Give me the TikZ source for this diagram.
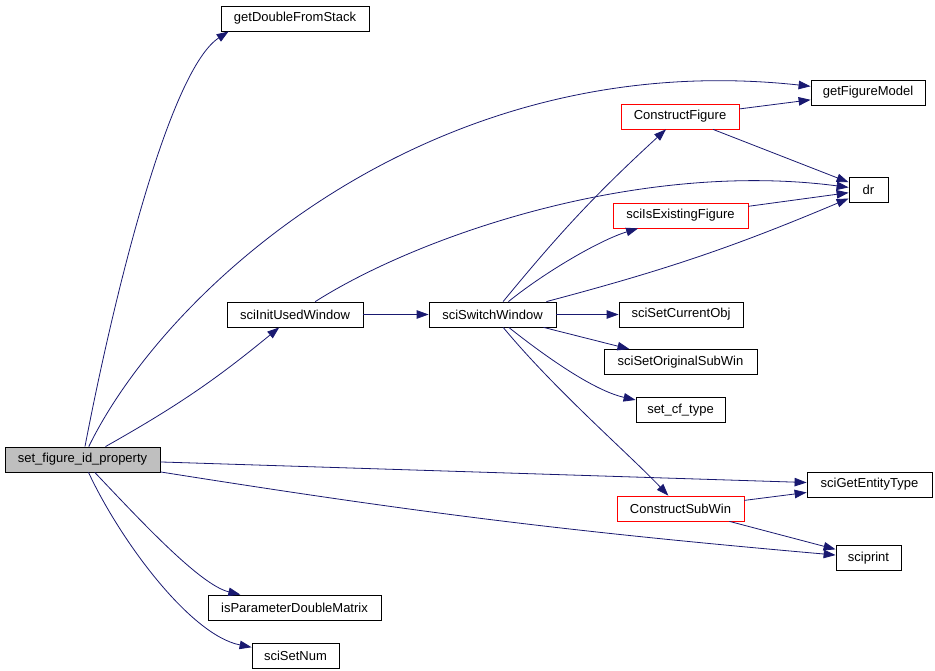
\documentclass[tikz,border=0pt]{standalone}
\usepackage{fontspec}
\setmainfont{Liberation Sans}
\usetikzlibrary{arrows.meta}
\definecolor{edgeblue}{HTML}{191970}
\tikzset{
	fn/.style={draw=black, line width=0.8pt, minimum height=25pt, inner sep=0pt, font=\fontsize{13}{15}\selectfont},
	fnred/.style={fn, draw=red},
	fnmain/.style={fn, fill=black!25},
	call/.style={draw=edgeblue, line width=0.8pt, -{Triangle[length=12pt,width=8.5pt]}}
}

\begin{document}
\begin{tikzpicture}[x=1pt, y=-1pt]
		%%%%% START %%%%%
		\useasboundingbox (0, 0) rectangle (935, 671);
		
		\node[fnmain, minimum width=155pt] (setfig) at (82.5, 459.5) {set\_figure\_id\_property};
		
		\node[fn, minimum width=148pt] (getdbl) at (295, 18.5) {getDoubleFromStack};
		\node[fn, minimum width=136pt] (initwin) at (295, 314.5) {sciInitUsedWindow};
		\node[fn, minimum width=173pt] (isparam) at (294.5, 607.5) {isParameterDoubleMatrix};
		\node[fn, minimum width=87pt] (setnum) at (295.5, 656) {sciSetNum};
		
		\node[fn, minimum width=127pt] (switchwin) at (492.5, 314.5) {sciSwitchWindow};
		
		\node[fnred, minimum width=118pt] (constfig) at (680, 116.5) {ConstructFigure};
		\node[fnred, minimum width=135pt] (isexist) at (680.5, 215.5) {sciIsExistingFigure};
		\node[fn, minimum width=124pt] (setcur) at (681, 314.5) {sciSetCurrentObj};
		\node[fn, minimum width=153pt] (setorig) at (680.5, 362) {sciSetOriginalSubWin};
		\node[fn, minimum width=89pt] (setcf) at (680.5, 410) {set\_cf\_type};
		\node[fnred, minimum width=127pt] (constsub) at (680.5, 508.5) {ConstructSubWin};
		
		\node[fn, minimum width=114pt] (getmodel) at (868, 92.5) {getFigureModel};
		\node[fn, minimum width=39pt] (dr) at (868.5, 190) {dr};
		\node[fn, minimum width=125pt] (enttype) at (869.5, 484.5) {sciGetEntityType};
		\node[fn, minimum width=65pt] (sciprint) at (868.5, 558) {sciprint};
		
		% calls from set_figure_id_property
		\draw[call] (setfig) .. controls (115, 290) and (170, 70) .. ([xshift=8pt]getdbl.south west);
		\draw[call] (setfig) .. controls (165, 290) and (430, 45) .. (getmodel);
		\draw[call] (setfig) to[bend right=5] (initwin);
		\draw[call] (setfig) -- (enttype);
		\draw[call] (setfig) to[bend right=2] (sciprint);
		\draw[call] (setfig) .. controls (140, 520) and (200, 585) .. (isparam);
		\draw[call] (setfig) .. controls (120, 540) and (190, 635) .. (setnum);
		
		% sciInitUsedWindow
		\draw[call] (initwin) -- (switchwin);
		\draw[call] (initwin) .. controls (420, 235) and (640, 160) .. (dr);
		
		% sciSwitchWindow
		\draw[call] (switchwin) to[bend left=4] (constfig);
		\draw[call] (switchwin) .. controls (545, 272) and (600, 240) .. (isexist);
		\draw[call] ([xshift=-10pt]switchwin.north east) to[bend right=4] (dr);
		\draw[call] (switchwin) -- (setcur);
		\draw[call] (switchwin) -- (setorig);
		\draw[call] (switchwin) .. controls (560, 368) and (600, 392) .. (setcf);
		\draw[call] (switchwin) .. controls (555, 390) and (630, 455) .. (constsub);
		
		% ConstructFigure, sciIsExistingFigure, ConstructSubWin
		\draw[call] (constfig) -- (getmodel);
		\draw[call] (constfig) -- (dr);
		\draw[call] (isexist) -- (dr);
		\draw[call] (constsub) -- (enttype);
		\draw[call] (constsub) -- (sciprint);
		
		%%%%% END %%%%%
\end{tikzpicture}
\end{document}
